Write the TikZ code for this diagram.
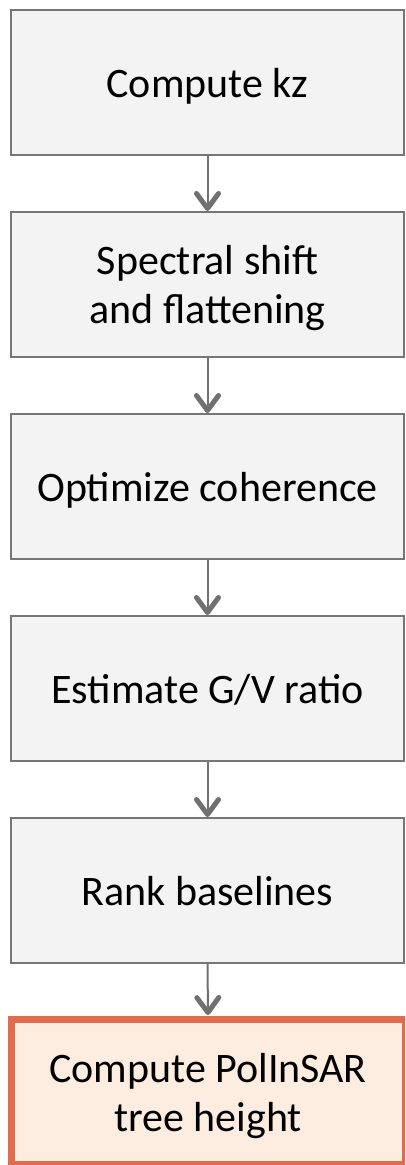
\documentclass[tikz,border=0pt]{standalone}
\usepackage{fontspec}
\setmainfont{Carlito}
\usetikzlibrary{arrows.meta}
\definecolor{boxfill}{HTML}{F3F3F3}
\definecolor{boxline}{HTML}{767676}
\definecolor{endfill}{HTML}{FDEDE1}
\definecolor{endline}{HTML}{E06B4D}
\definecolor{arrowcol}{HTML}{707070}
\begin{document}
\begin{tikzpicture}[x=1pt,y=1pt,
  stepbox/.style={draw=boxline, fill=boxfill, line width=2pt,
    minimum width=393pt, minimum height=145pt, inner sep=0pt,
    align=center, font=\fontsize{42}{49}\selectfont, text depth=-5pt},
  twoline/.style={text depth=-10pt},
  endbox/.style={stepbox, draw=endline, fill=endfill, line width=7pt,
    minimum width=394pt},
  flow/.style={draw=arrowcol, line width=2pt,
    -{Straight Barb[length=15pt,width=22pt,line width=5pt,round]}}]
\useasboundingbox (0,0) rectangle (405,-1165);
\clip (0,0) rectangle (405,-1165);
\node[stepbox] (a) at (207.5,-82.5) {Compute kz};
\node[stepbox, text depth=-20pt] (b) at (207.5,-284.5) {Spectral shift\\and flattening};
\node[stepbox] (c) at (207.5,-486.5) {Optimize coherence};
\node[stepbox] (d) at (207.5,-688.5) {Estimate G/V ratio};
\node[stepbox] (e) at (207.5,-890.5) {Rank baselines};
\node[endbox, twoline] (f) at (208,-1092) {Compute PolInSAR\\tree height};
\draw[flow] (a.south) -- (b.north);
\draw[flow] (b.south) -- (c.north);
\draw[flow] (c.south) -- (d.north);
\draw[flow] (d.south) -- (e.north);
\draw[flow] (e.south) -- ([yshift=1pt]f.north);
\end{tikzpicture}
\end{document}
